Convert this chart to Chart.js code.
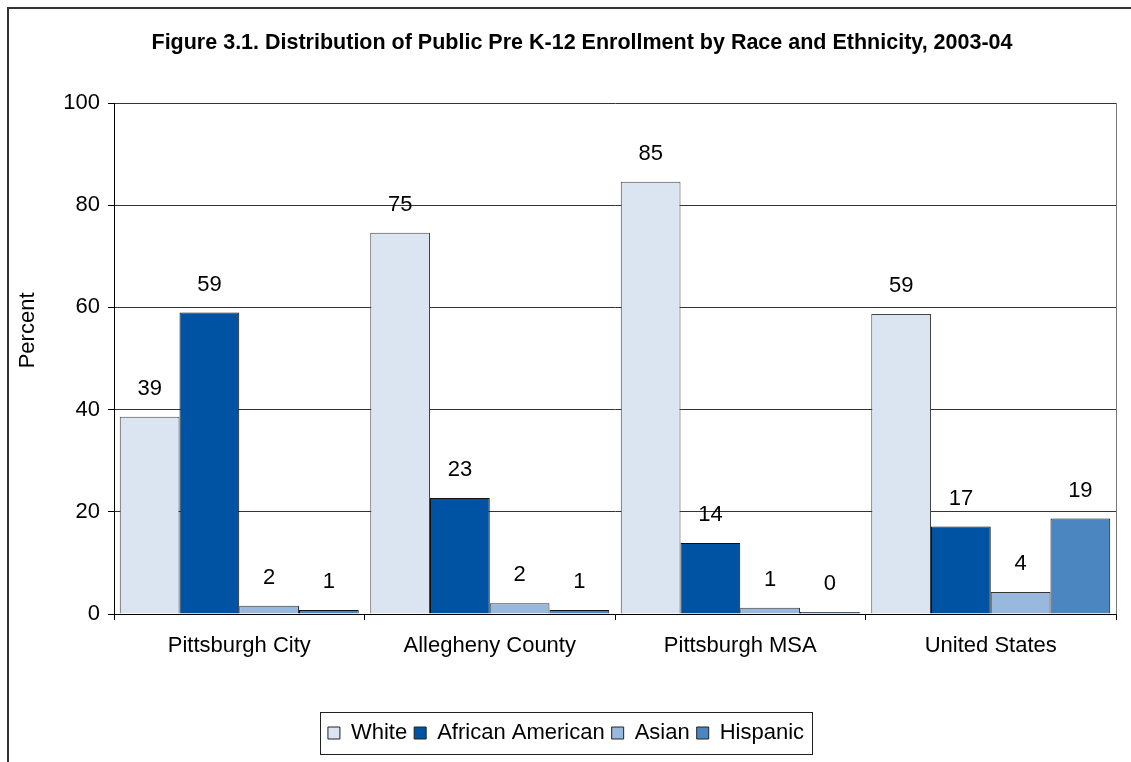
<!DOCTYPE html>
<html>
<head>
<meta charset="utf-8">
<script src="https://cdn.jsdelivr.net/npm/chart.js@4.4.1/dist/chart.umd.min.js"></script>
<style>
  html, body { margin: 0; padding: 0; background: #fff; }
  #wrap { width: 1131px; height: 762px; position: relative; overflow: hidden; }
</style>
</head>
<body>
<div id="wrap"><canvas id="myChart" width="1131" height="762"></canvas></div>
<script>
const titleText = 'Figure 3.1. Distribution of Public Pre K-12 Enrollment by Race and Ethnicity, 2003-04';
const yTitle = 'Percent';
const places = ['Pittsburgh City', 'Allegheny County', 'Pittsburgh MSA', 'United States'];
const white = [38.6, 74.6, 84.6, 58.7];
const africanAmerican = [59.0, 22.7, 13.9, 17.1];
const asian = [1.6, 2.1, 1.2, 4.3];
const hispanic = [0.8, 0.8, 0.4, 18.7];
const yTicks = [0, 20, 40, 60, 80, 100];

const FONT = "'Liberation Sans', Arial, sans-serif";
const FS = 22;

// page frame, title and axis title
const frame = {
    id: 'frame',
    beforeDraw(chart) {
        const c = chart.ctx;
        const a = chart.chartArea;
        c.save();
        c.fillStyle = '#fff';
        c.fillRect(0, 0, chart.width, chart.height);
        c.strokeStyle = '#333';
        c.lineWidth = 2;
        c.beginPath();
        c.moveTo(8, chart.height);
        c.lineTo(8, 8);
        c.lineTo(chart.width, 8);
        c.stroke();
        c.fillStyle = '#000';
        c.font = 'bold 21.5px ' + FONT;
        c.textAlign = 'center';
        c.textBaseline = 'middle';
        c.fillText(titleText, 582, 43);
        c.font = FS + 'px ' + FONT;
        c.translate(28, a.top + (a.bottom - a.top) * 0.445);
        c.rotate(-Math.PI / 2);
        c.fillText(yTitle, 0, 0);
        c.restore();
    },
    afterDraw(chart) {
        const c = chart.ctx;
        const a = chart.chartArea;
        c.save();
        // right edge of plot box
        c.strokeStyle = '#777';
        c.lineWidth = 1;
        c.beginPath();
        c.moveTo(Math.round(a.right) + 0.5, a.top);
        c.lineTo(Math.round(a.right) + 0.5, a.bottom);
        c.stroke();
        // box round the legend
        const boxes = chart.legend.legendHitBoxes;
        if (boxes && boxes.length) {
            const last = boxes[boxes.length - 1];
            const l = boxes[0].left - 8;
            const r = last.left + last.width + 8;
            const t = boxes[0].top - 10;
            const b = boxes[0].top + boxes[0].height + 10;
            c.strokeStyle = '#222';
            c.strokeRect(Math.round(l) + 0.5, Math.round(t) + 0.5, Math.round(r - l), Math.round(b - t));
        }
        c.restore();
    }
};

const valueLabels = {
    id: 'valueLabels',
    afterDatasetsDraw(chart) {
        const c = chart.ctx;
        c.save();
        c.fillStyle = '#000';
        c.font = FS + 'px ' + FONT;
        c.textAlign = 'center';
        c.textBaseline = 'middle';
        chart.data.datasets.forEach((ds, i) => {
            chart.getDatasetMeta(i).data.forEach((bar, j) => {
                c.fillText(String(Math.round(ds.data[j])), bar.x, bar.y - 28);
            });
        });
        c.restore();
    }
};

const ch = document.getElementById('myChart');
const enrollChart = new Chart(ch, {
    type: 'bar',
    data: {
        labels: places,
        datasets: [
            {label: 'White', data: white, backgroundColor: '#dae5f1', borderColor: '#444'},
            {label: 'African American', data: africanAmerican, backgroundColor: '#0052a2', borderColor: '#111'},
            {label: 'Asian', data: asian, backgroundColor: '#98b9dd', borderColor: '#333'},
            {label: 'Hispanic', data: hispanic, backgroundColor: '#4c86c0', borderColor: '#111'}
        ].map(d => Object.assign(d, {
            borderWidth: 1,
            categoryPercentage: 0.954,
            barPercentage: 1.0
        }))
    },
    options: {
        responsive: false,
        animation: false,
        devicePixelRatio: 1,
        layout: {padding: {top: 103, left: 16, right: 15, bottom: 8}},
        plugins: {
            title: {display: false},
            tooltip: {enabled: false},
            legend: {
                position: 'bottom',
                labels: {
                    font: {family: FONT, size: FS},
                    color: '#000',
                    boxWidth: 12,
                    boxHeight: 12,
                    padding: 7,
                    generateLabels(chart) {
                        return chart.data.datasets.map((d, i) => ({
                            text: d.label,
                            fillStyle: d.backgroundColor,
                            strokeStyle: '#222',
                            lineWidth: 1,
                            datasetIndex: i,
                            hidden: false
                        }));
                    }
                }
            }
        },
        scales: {
            x: {
                grid: {
                    offset: true,
                    drawOnChartArea: false,
                    tickLength: 6,
                    tickColor: '#000'
                },
                border: {color: '#000', width: 1},
                ticks: {font: {family: FONT, size: FS}, color: '#000', padding: 13},
                afterFit(scale) { scale.height = 101; }
            },
            y: {
                min: 0,
                max: 100,
                afterBuildTicks(scale) { scale.ticks = yTicks.map(v => ({value: v})); },
                grid: {color: '#333', tickLength: 6, tickColor: '#000'},
                border: {color: '#000', width: 1},
                ticks: {font: {family: FONT, size: FS}, color: '#000', padding: 8},
                afterFit(scale) { scale.width = 98; }
            }
        }
    },
    plugins: [frame, valueLabels]
});
</script>
</body>
</html>
